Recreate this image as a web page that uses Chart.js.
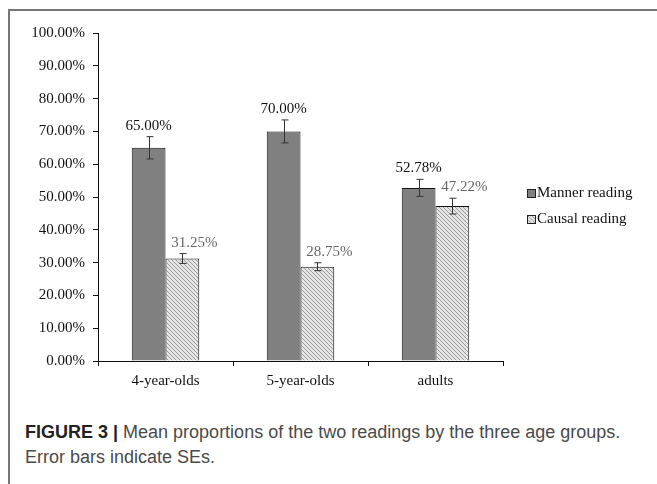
<!DOCTYPE html>
<html>
<head>
<meta charset="utf-8">
<script src="https://cdn.jsdelivr.net/npm/chart.js@4"></script>
<style>
  html, body { margin: 0; padding: 0; background: #fff; }
  body { width: 657px; height: 484px; position: relative; overflow: hidden; }
  #frame { position: absolute; left: 8px; top: 9px; right: -10px; bottom: -10px;
           border-top: 2px solid #777; border-left: 2px solid #777; }
  #wrap { position: absolute; left: 0; top: 0; width: 657px; height: 400px; }
  #caption { position: absolute; left: 25px; top: 420px; font-family: "Liberation Sans", Arial, sans-serif;
             font-size: 18px; line-height: 25px; color: #4a4a4a; }
  #caption b { color: #222; }
</style>
</head>
<body>
<div id="frame"></div>
<div id="wrap"><canvas id="chart" width="657" height="400"></canvas></div>
<div id="caption"><b>FIGURE 3 |</b> Mean proportions of the two readings by the three age groups.<br>Error bars indicate SEs.</div>
<script>
// values (percent)
const categories = ['4-year-olds', '5-year-olds', 'adults'];
const seriesNames = ['Manner reading', 'Causal reading'];
const mannerValues = [65.00, 70.00, 52.78];
const causalValues = [31.25, 28.75, 47.22];
const mannerErrors = [3.4, 3.5, 2.6];
const causalErrors = [1.5, 1.2, 2.4];

const serif = "'Liberation Serif', 'Times New Roman', serif";

// light hatched fill for the causal bars
function hatch() {
    const c = document.createElement('canvas');
    c.width = 4; c.height = 4;
    const g = c.getContext('2d');
    g.fillStyle = '#e4e4e4';
    g.fillRect(0, 0, 4, 4);
    g.fillStyle = '#9c9c9c';
    for (let i = 0; i < 4; i++) g.fillRect(i, i, 1, 1);
    return g.createPattern(c, 'repeat');
}

const errorBars = {
    id: 'errorBars',
    afterDatasetsDraw(chart) {
        const ctx = chart.ctx;
        const y = chart.scales.y;
        ctx.save();
        ctx.strokeStyle = '#333';
        ctx.lineWidth = 1;
        chart.data.datasets.forEach((ds, di) => {
            chart.getDatasetMeta(di).data.forEach((bar, i) => {
                const x = Math.round(bar.x) + 0.5;
                const top = y.getPixelForValue(ds.data[i] + ds.errors[i]);
                const bot = y.getPixelForValue(ds.data[i] - ds.errors[i]);
                ctx.beginPath();
                ctx.moveTo(x, top); ctx.lineTo(x, bot);
                ctx.moveTo(x - 3, top); ctx.lineTo(x + 4, top);
                ctx.moveTo(x - 3, bot); ctx.lineTo(x + 4, bot);
                ctx.stroke();
                // value label
                ctx.font = '15px ' + serif;
                ctx.textAlign = 'center';
                ctx.textBaseline = 'middle';
                ctx.fillStyle = ds.labelColor;
                ctx.fillText(ds.data[i].toFixed(2) + '%', bar.x + ds.labelShift, top - 11);
            });
        });
        ctx.restore();
    }
};

const sideLegend = {
    id: 'sideLegend',
    afterDraw(chart) {
        const ctx = chart.ctx;
        ctx.save();
        ctx.font = '15px ' + serif;
        ctx.textBaseline = 'middle';
        ctx.textAlign = 'left';
        chart.data.datasets.forEach((ds, di) => {
            const ly = 193 + di * 26;
            ctx.fillStyle = ds.backgroundColor;
            ctx.fillRect(527, ly - 4, 8, 8);
            ctx.strokeStyle = '#222';
            ctx.lineWidth = 1;
            ctx.strokeRect(527.5, ly - 3.5, 8, 8);
            ctx.fillStyle = '#111';
            ctx.fillText(ds.label, 537, ly);
        });
        ctx.restore();
    }
};

const ctx = document.getElementById('chart').getContext('2d');
new Chart(ctx, {
    type: 'bar',
    data: {
        labels: categories,
        datasets: [{
            label: seriesNames[0],
            data: mannerValues,
            errors: mannerErrors,
            backgroundColor: '#808080',
            borderColor: '#111',
            borderWidth: 1,
            labelColor: '#111',
            labelShift: 0
        }, {
            label: seriesNames[1],
            data: causalValues,
            errors: causalErrors,
            backgroundColor: hatch(),
            borderColor: '#111',
            borderWidth: 1,
            labelColor: '#666',
            labelShift: 12
        }]
    },
    options: {
        responsive: false,
        animation: false,
        barPercentage: 1,
        categoryPercentage: 0.5,
        layout: { padding: { top: 33, right: 154, bottom: 0, left: 0 } },
        plugins: {
            legend: { display: false },
            tooltip: { enabled: false }
        },
        scales: {
            x: {
                grid: { drawOnChartArea: false, drawTicks: true, tickLength: 5, color: '#111' },
                border: { color: '#111', width: 1 },
                ticks: { color: '#111', font: { family: serif, size: 15 }, padding: 6 },
                afterFit(s) { s.height = 39; }
            },
            y: {
                min: 0,
                max: 100,
                grid: { drawOnChartArea: false, drawTicks: true, tickLength: 5, color: '#111' },
                border: { color: '#111', width: 1 },
                ticks: {
                    stepSize: 10,
                    color: '#111',
                    font: { family: serif, size: 15 },
                    padding: 8,
                    callback: v => v.toFixed(2) + '%'
                },
                afterFit(s) { s.width = 98; }
            }
        }
    },
    plugins: [errorBars, sideLegend]
});
</script>
</body>
</html>
